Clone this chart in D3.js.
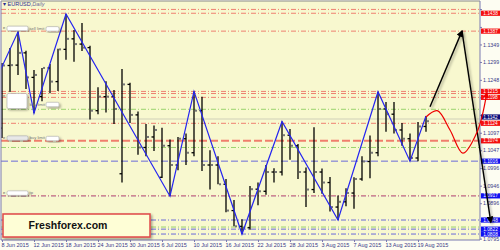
<!DOCTYPE html>
<html>
<head>
<meta charset="utf-8">
<script src="https://cdn.jsdelivr.net/npm/d3@7"></script>
<style>
body { margin: 0; background: #fff; }
svg { display: block; font-family: "Liberation Sans", Arial, sans-serif; }
</style>
</head>
<body>
<svg id="canvas"></svg>
<script>
var w = 500;
var h = 250;

// daily EURUSD bars, 8 Jun .. 20 Aug 2015
var opens  = [1.1110,1.1289,1.1290,1.1325,1.1255,1.1200,1.1282,1.1243,1.1335,1.1365,1.1350,1.1340,1.1160,1.1200,1.1200,1.0980,1.1235,1.1148,1.1055,1.1085,1.0970,1.1060,1.1005,1.1080,1.1040,1.1160,1.1005,1.1005,1.0950,1.0875,1.0830,1.0826,1.0936,1.0930,1.0985,1.0985,1.1090,1.1060,1.0985,1.0935,1.0985,1.0955,1.0885,1.0900,1.0925,1.0965,1.1015,1.1040,1.1165,1.1150,1.1105,1.1080,1.1025,1.1115];
var highs  = [1.1296,1.1339,1.1385,1.1331,1.1276,1.1282,1.1293,1.1337,1.1436,1.1390,1.1410,1.1345,1.1227,1.1244,1.1219,1.1279,1.1240,1.1158,1.1122,1.1118,1.1111,1.1078,1.1085,1.1095,1.1215,1.1200,1.1047,1.1030,1.0965,1.0905,1.0850,1.0945,1.0955,1.1005,1.0996,1.1129,1.1108,1.1065,1.0998,1.1113,1.0995,1.0971,1.0918,1.0939,1.0970,1.1030,1.1089,1.1214,1.1185,1.1185,1.1125,1.1095,1.1128,1.1145];
var lows   = [1.1082,1.1213,1.1262,1.1222,1.1153,1.1187,1.1210,1.1216,1.1305,1.1300,1.1330,1.1135,1.1150,1.1155,1.1122,1.0955,1.1125,1.1034,1.1030,1.1045,1.0968,1.0916,1.0990,1.1005,1.1030,1.0988,1.0935,1.0950,1.0870,1.0830,1.0808,1.0820,1.0890,1.0920,1.0955,1.0975,1.1020,1.0965,1.0885,1.0925,1.0923,1.0872,1.0848,1.0887,1.0880,1.0960,1.0967,1.1030,1.1100,1.1095,1.1060,1.1016,1.1016,1.1100];
var closes = [1.1289,1.1290,1.1325,1.1255,1.1262,1.1282,1.1243,1.1335,1.1365,1.1350,1.1340,1.1160,1.1200,1.1200,1.1165,1.1235,1.1148,1.1055,1.1085,1.1105,1.1060,1.1005,1.1080,1.1040,1.1160,1.1005,1.1005,1.0950,1.0875,1.0830,1.0826,1.0936,1.0930,1.0985,1.0985,1.1090,1.1060,1.0985,1.0935,1.0985,1.0955,1.0885,1.0900,1.0925,1.0965,1.1015,1.1040,1.1165,1.1150,1.1105,1.1080,1.1025,1.1115,1.1130];

var dateLabels = ["8 Jun 2015","12 Jun 2015","18 Jun 2015","24 Jun 2015","30 Jun 2015","6 Jul 2015","10 Jul 2015","16 Jul 2015","22 Jul 2015","28 Jul 2015","3 Aug 2015","7 Aug 2015","13 Aug 2015","19 Aug 2015"];
var dateIdx = [0,4,8,12,16,20,24,28,32,36,40,44,48,52];

var tickPrices = [1.0795,1.0845,1.0896,1.0946,1.0996,1.1047,1.1097,1.1148,1.1198,1.1248,1.1299,1.1349,1.1399,1.1450];

// zigzag vertices (bar index, price)
var zzIdx   = [-1,2,4,8,21,24,30,35,42,47,51,53];
var zzPrice = [1.1236,1.1385,1.1153,1.1436,1.0916,1.1215,1.0808,1.1129,1.0848,1.1214,1.1016,1.1145];

// horizontal levels
var redDashDot  = [1.1449,1.1438,1.1387,1.1215,1.1209,1.1198,1.1124,1.0917];
var redDashed   = [1.1074];
var greenLevels = [1.1164,1.1055,1.0828];
var blueDashed  = [1.1016];
var blueDashDot = [1.0917,1.0848,1.0822,1.0808];
var bidLevel    = [1.1136];

// price tags on the right
var redTags  = [1.1438,1.1387,1.1215,1.1198,1.1124,1.1074];
var blueTags = [1.1016,1.0917,1.0848,1.0822,1.0808];
var navyTags = [1.1142];

// left notes
var noteTexts  = ["sell limit","buy limit","buy limit","tp"];
var notePrices = [1.1387,1.1164,1.1074,1.0917];

// forecast
var blackIdx   = [53.5,57.5,61.1];
var blackPrice = [1.1171,1.1387,1.0842];
var redIdx     = [53,54.4,56,57.6,59.4,60.6];
var redPrice   = [1.1142,1.1160,1.1105,1.1039,1.1100,1.1211];

window.onload = function () {
  var svg = d3.select("#canvas")
    .attr("width", w)
    .attr("height", h)
    .attr("viewBox", [0, 0, w, h]);

  var left = 1, right = 480, top = 1, bottom = 240;
  var x = d3.scaleLinear().domain([0, 53]).range([2, 426]);
  var y = d3.scaleLinear().domain([1.0791, 1.1473]).range([bottom, top]);
  var fmt = d3.format(".4f");

  var defs = svg.append("defs");
  defs.append("clipPath").attr("id", "plot")
    .append("rect").attr("x", left).attr("y", top)
    .attr("width", right - left).attr("height", bottom - top);
  var sh = defs.append("filter").attr("id", "shadow")
    .attr("x", "-20%").attr("y", "-20%").attr("width", "150%").attr("height", "150%");
  sh.append("feDropShadow").attr("dx", 1.5).attr("dy", 1.5)
    .attr("stdDeviation", 1).attr("flood-color", "#000").attr("flood-opacity", 0.35);
  [["ahBlack", "#000"], ["ahRed", "#e00"]].forEach(function (m) {
    defs.append("marker").attr("id", m[0])
      .attr("viewBox", "0 0 10 10").attr("refX", 8).attr("refY", 5)
      .attr("markerWidth", 5).attr("markerHeight", 5)
      .attr("markerUnits", "strokeWidth").attr("orient", "auto")
      .append("path").attr("d", "M0,0L10,5L0,10z").attr("fill", m[1]);
  });

  // background
  svg.append("rect").attr("width", w).attr("height", h).attr("fill", "#fdfdf2");
  svg.append("rect").attr("x", left).attr("y", top)
    .attr("width", right - left).attr("height", bottom - top)
    .attr("fill", "#f8f8cf");

  var plot = svg.append("g").attr("clip-path", "url(#plot)");

  function levels(arr, color, dash, sw) {
    plot.selectAll(null).data(arr).enter().append("line")
      .attr("x1", left).attr("x2", right)
      .attr("y1", d => y(d)).attr("y2", d => y(d))
      .attr("stroke", color).attr("stroke-width", sw)
      .attr("stroke-dasharray", dash);
  }
  levels(bidLevel, "#e4e4c4", null, 2);
  levels(greenLevels, "#9ad36c", "5,2,1,2", 1);
  levels(blueDashDot, "#6a6ad8", "5,2,1,2", 1);
  levels(blueDashed, "#6a6ad8", "7,3", 1);
  levels(redDashDot, "#ee8070", "5,2,1,2", 1);
  levels(redDashed, "#f07d6c", "8,3", 2);

  // bars
  var idx = d3.range(opens.length);
  var bars = plot.append("g").attr("stroke", "#000").attr("stroke-width", 1.3);
  bars.selectAll(".hl").data(idx).enter().append("line")
    .attr("x1", i => x(i)).attr("x2", i => x(i))
    .attr("y1", i => y(highs[i])).attr("y2", i => y(lows[i]));
  bars.selectAll(".op").data(idx).enter().append("line")
    .attr("x1", i => x(i) - 2.5).attr("x2", i => x(i))
    .attr("y1", i => y(opens[i])).attr("y2", i => y(opens[i]));
  plot.selectAll(".cl").data(idx).enter().append("rect")
    .attr("x", i => x(i) + 1).attr("y", i => y(closes[i]) - 1)
    .attr("width", 2).attr("height", 2).attr("fill", "#777");

  // zigzag
  plot.append("path")
    .datum(d3.range(zzIdx.length))
    .attr("d", d3.line().x(k => x(zzIdx[k])).y(k => y(zzPrice[k])))
    .attr("fill", "none").attr("stroke", "#2424f0").attr("stroke-width", 1.2);

  // plot frame and axes
  svg.append("line").attr("x1", left).attr("x2", right).attr("y1", top).attr("y2", top)
    .attr("stroke", "#888").attr("stroke-width", 1);
  svg.append("line").attr("x1", left).attr("x2", left).attr("y1", top).attr("y2", bottom)
    .attr("stroke", "#7a7ab0").attr("stroke-width", 1);
  svg.append("line").attr("x1", right).attr("x2", right).attr("y1", top).attr("y2", bottom)
    .attr("stroke", "#7a7ab0").attr("stroke-width", 1);
  svg.append("line").attr("x1", left).attr("x2", right).attr("y1", bottom).attr("y2", bottom)
    .attr("stroke", "#7a7ab0").attr("stroke-width", 1);

  // tags cover the tick labels that sit under them
  var allTags = redTags.concat(blueTags, navyTags);
  var shownTicks = tickPrices.filter(p => d3.min(allTags, t => Math.abs(y(t) - y(p))) >= 4.5);

  var ya = svg.append("g").attr("transform", "translate(" + right + ",0)")
    .call(d3.axisRight(y).tickValues(tickPrices).tickFormat(fmt).tickSize(2).tickPadding(1));
  ya.select(".domain").remove();
  ya.selectAll("line").attr("stroke", "#7a7ab0");
  ya.selectAll("text").attr("font-size", 5.3).attr("fill", "#3a3a88")
    .style("display", d => shownTicks.indexOf(d) < 0 ? "none" : null);

  var xa = svg.append("g").attr("transform", "translate(0," + bottom + ")")
    .call(d3.axisBottom(x).tickValues(dateIdx).tickFormat((d, k) => dateLabels[k]).tickSize(2).tickPadding(1));
  xa.select(".domain").remove();
  xa.selectAll("line").attr("stroke", "#7a7ab0");
  xa.selectAll("text").attr("font-size", 5.5).attr("fill", "#3a3a88")
    .attr("text-anchor", "start").attr("dx", -1);

  // price tags
  function tags(arr, fill) {
    var g = svg.selectAll(null).data(arr).enter().append("g")
      .attr("transform", d => "translate(" + (right + 1) + "," + y(d) + ")");
    g.append("rect").attr("x", 0).attr("y", -2.6).attr("width", 19).attr("height", 5.2).attr("fill", fill);
    g.append("text").attr("x", 9.5).attr("y", 1.6).attr("text-anchor", "middle")
      .attr("font-size", 4.8).attr("fill", "#fff").text(d => fmt(d));
  }
  tags(redTags, "#f41010");
  tags(blueTags, "#1010f0");
  tags(navyTags, "#0c0c78");

  // left notes
  var notes = svg.append("g");
  notePrices.forEach(function (p, k) {
    var yy = y(p);
    var big = k === 1;
    var by = big ? y(1.1209) : yy - 5;
    var bh = big ? 15 : 4.5;
    notes.append("rect").attr("x", 7).attr("y", by).attr("width", big ? 20 : 21).attr("height", bh)
      .attr("rx", 1.5).attr("fill", k === 2 ? "#e8e8e8" : "#fff").attr("stroke", "#aaa").attr("stroke-width", 0.6)
      .attr("filter", "url(#shadow)");
    notes.append("text").attr("x", 3).attr("y", by + 3).attr("font-size", 4).attr("fill", "#555").text("e");
    notes.append("text").attr("x", 29.5).attr("y", (big ? yy - 3 : yy - 1.5)).attr("font-size", 4.2)
      .attr("fill", "#777").text(noteTexts[k]);
    if (k < 3) {
      notes.append("rect").attr("x", 46).attr("y", (big ? yy - 7 : yy - 4.5)).attr("width", 13).attr("height", 4.5)
        .attr("rx", 1.5).attr("fill", "#fff").attr("stroke", "#aaa").attr("stroke-width", 0.6)
        .attr("filter", "url(#shadow)");
    }
  });

  // title
  svg.append("text").attr("x", 3).attr("y", 6).attr("font-size", 5.5)
    .call(t => {
      t.append("tspan").attr("fill", "#2a2a90").text("\u25BE EURUSD,");
      t.append("tspan").attr("fill", "#6a6a9a").attr("font-style", "italic").text("Daily");
    });

  // forecast
  var fc = svg.append("g").attr("filter", "url(#shadow)");
  [[0, 1], [1, 2]].forEach(function (s) {
    fc.append("line")
      .attr("x1", x(blackIdx[s[0]])).attr("y1", y(blackPrice[s[0]]))
      .attr("x2", x(blackIdx[s[1]])).attr("y2", y(blackPrice[s[1]]))
      .attr("stroke", "#000").attr("stroke-width", 1.4)
      .attr("marker-end", "url(#ahBlack)");
  });
  svg.append("path")
    .datum(d3.range(redIdx.length))
    .attr("d", d3.line().curve(d3.curveCatmullRom).x(k => x(redIdx[k])).y(k => y(redPrice[k])))
    .attr("fill", "none").attr("stroke", "#e00").attr("stroke-width", 1.2)
    .attr("marker-end", "url(#ahRed)");

  // logo box
  var logo = svg.append("g");
  logo.append("rect").attr("x", 3).attr("y", 214).attr("width", 147).attr("height", 23)
    .attr("fill", "#fefed6").attr("stroke", "#e04848").attr("stroke-width", 1.5)
    .attr("filter", "url(#shadow)");
  logo.append("text").attr("x", 68).attr("y", 229).attr("text-anchor", "middle")
    .attr("font-size", 10.5).attr("font-weight", "bold").attr("fill", "#111")
    .text("Freshforex.com");
};
</script>
</body>
</html>
